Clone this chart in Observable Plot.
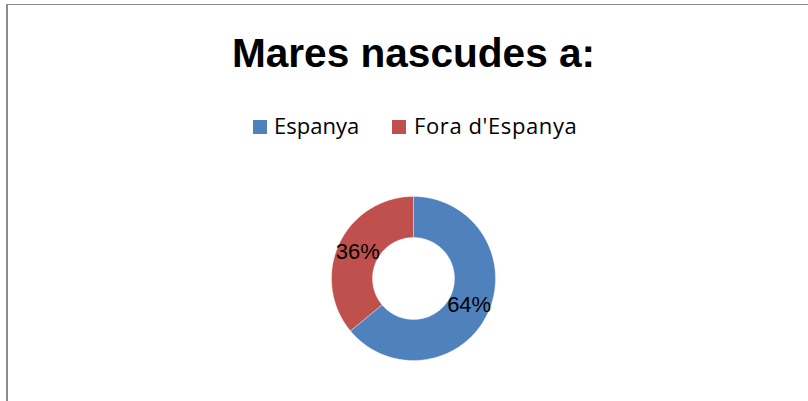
<!DOCTYPE html>
<html>
<head>
<meta charset="utf-8">
<script src="https://cdn.jsdelivr.net/npm/d3@7"></script>
<script src="https://cdn.jsdelivr.net/npm/@observablehq/plot@0.6"></script>
<style>
  html, body { margin: 0; padding: 0; background: #fff; }
  #frame { position: relative; width: 808px; height: 401px; overflow: hidden; background: #fff;
           font-family: "Liberation Sans", Arial, sans-serif; }
  #bl { position: absolute; left: 6px; top: 4px; width: 2px; height: 397px; background: #8c8c8c; }
  #bt { position: absolute; left: 6px; top: 4px; width: 802px; height: 1px; background: #8c8c8c; }
  #title { position: absolute; left: 0; width: 827px; top: 33px; text-align: center;
           font-size: 40.6px; line-height: 40px; font-weight: bold; color: #000; }
  #legend { position: absolute; left: 0; top: 0; width: 808px; height: 160px;
            font-family: "Open Sans", "Liberation Sans", sans-serif; font-size: 22px; color: #000; }
  .sw { position: absolute; width: 14px; height: 14px; top: 120px; }
  .lt { position: absolute; top: 115px; line-height: 21px; white-space: nowrap; }
  #chart { position: absolute; left: 0; top: 170px; }
</style>
</head>
<body>
<div id="frame">
  <div id="bt"></div>
  <div id="bl"></div>
  <div id="title"></div>
  <div id="legend"></div>
  <div id="chart"></div>
</div>
<script>
const title = "Mares nascudes a:";
const categories = ["Espanya", "Fora d'Espanya"];
const values = [64, 36];
const labels = ["64%", "36%"];
const colors = ["#4F81BD", "#C0504D"];

document.getElementById("title").textContent = title;

// legend layout (left edges of swatch and label per entry)
const legendSwatchX = [253, 392];
const legendTextX = [274, 414];
const legendSpacing = [0, 0.6];
const legend = document.getElementById("legend");
categories.forEach((c, i) => {
  const sw = document.createElement("div");
  sw.className = "sw";
  sw.style.left = legendSwatchX[i] + "px";
  sw.style.background = colors[i];
  const tx = document.createElement("div");
  tx.className = "lt";
  tx.style.left = legendTextX[i] + "px";
  tx.style.letterSpacing = legendSpacing[i] + "px";
  tx.textContent = c;
  legend.appendChild(sw); legend.appendChild(tx);
});

// Donut geometry from the data (clockwise from 12 o'clock, like the original)
const innerR = 0.5, outerR = 1;
const arcs = d3.pie().sort(null).startAngle(0).endAngle(2 * Math.PI)(values);
const ring = [];
const textPts = [];
arcs.forEach((a, i) => {
  const cat = categories[i];
  const n = Math.max(2, Math.ceil((a.endAngle - a.startAngle) / (Math.PI / 180)));
  for (let k = 0; k <= n; k++) {
    const t = a.startAngle + (a.endAngle - a.startAngle) * k / n;
    ring.push({cat, x: outerR * Math.sin(t), y: outerR * Math.cos(t)});
  }
  for (let k = n; k >= 0; k--) {
    const t = a.startAngle + (a.endAngle - a.startAngle) * k / n;
    ring.push({cat, x: innerR * Math.sin(t), y: innerR * Math.cos(t)});
  }
  const m = (a.startAngle + a.endAngle) / 2;
  const r = (innerR + outerR) / 2;
  textPts.push({label: labels[i], x: r * Math.sin(m), y: r * Math.cos(m)});
});

const plot = Plot.plot({
  width: 808,
  height: 231,
  marginLeft: 331,
  marginRight: 313,
  marginTop: 26,
  marginBottom: 41,
  x: {domain: [-1, 1], axis: null},
  y: {domain: [-1, 1], axis: null},
  color: {domain: categories, range: colors},
  style: {background: "transparent", overflow: "visible"},
  marks: [
    Plot.line(ring, {x: "x", y: "y", z: "cat", fill: "cat", stroke: "#ffffff", strokeWidth: 0.6,
                     strokeOpacity: 0.6, curve: "linear-closed"}),
    Plot.text(textPts, {x: "x", y: "y", text: "label", fontSize: 22, fill: "#000",
                        fontFamily: "Liberation Sans, Arial, sans-serif", textAnchor: "middle", lineAnchor: "middle"})
  ]
});
document.getElementById("chart").appendChild(plot);
</script>
</body>
</html>
